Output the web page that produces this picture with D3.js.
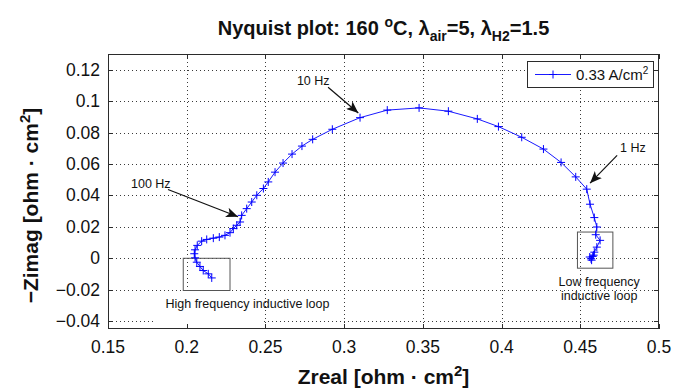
<!DOCTYPE html>
<html>
<head>
<meta charset="utf-8">
<script src="https://cdn.jsdelivr.net/npm/d3@7"></script>
<style>
  html, body { margin: 0; padding: 0; background: #fff; }
  svg { display: block; font-family: "Liberation Sans", Arial, Helvetica, sans-serif; }
</style>
</head>
<body>
<div id="chart"></div>
<script>
// impedance spectrum, high frequency end first
const zreal = [0.2159, 0.2137, 0.2105, 0.2084, 0.2064, 0.2053, 0.2048, 0.2053, 0.2067, 0.2095,
  0.2127, 0.2169, 0.2207, 0.2243, 0.2275, 0.2296, 0.2318, 0.2339, 0.2349, 0.2381,
  0.2413, 0.2445, 0.2487, 0.2518, 0.2561, 0.2612, 0.2669, 0.2732, 0.2800, 0.2925,
  0.3101, 0.3274, 0.3476, 0.3662, 0.3846, 0.3980, 0.4128, 0.4266, 0.4378, 0.4471,
  0.4541, 0.4562, 0.4589, 0.4605, 0.4598, 0.4626, 0.4605, 0.4589, 0.4579, 0.4568,
  0.4585, 0.4560, 0.4572];
const zimag = [-0.0125, -0.0099, -0.0078, -0.0052, -0.0025, 0.0003, 0.0029, 0.0054, 0.0082, 0.0109,
  0.0120, 0.0128, 0.0135, 0.0146, 0.0163, 0.0189, 0.0210, 0.0231, 0.0273, 0.0316,
  0.0358, 0.0401, 0.0444, 0.0486, 0.0548, 0.0606, 0.0663, 0.0714, 0.0757, 0.0821,
  0.0895, 0.0943, 0.0957, 0.0936, 0.0887, 0.0838, 0.0770, 0.0695, 0.0610, 0.0518,
  0.0440, 0.0344, 0.0259, 0.0199, 0.0150, 0.0114, 0.0071, 0.0039, 0.0012, -0.0003,
  0.0020, 0.0008, -0.0012];

const xTicks = [0.15, 0.2, 0.25, 0.3, 0.35, 0.4, 0.45, 0.5];
const yTicks = [-0.04, -0.02, 0, 0.02, 0.04, 0.06, 0.08, 0.1, 0.12];
const xTickLabels = ["0.15", "0.2", "0.25", "0.3", "0.35", "0.4", "0.45", "0.5"];
const yTickLabels = ["\u22120.04", "\u22120.02", "0", "0.02", "0.04", "0.06", "0.08", "0.1", "0.12"];
const seriesName = "0.33 A/cm";

// annotations in data units
const arrows = [
  { label: "10 Hz",  tx: 0.2700, ty: 0.1103, x0: 0.2898, y0: 0.1088, x1: 0.3090, y1: 0.0925 },
  { label: "100 Hz", tx: 0.1646, ty: 0.0446, x0: 0.1881, y0: 0.0438, x1: 0.2326, y1: 0.0264 },
  { label: "1 Hz",   tx: 0.4753, ty: 0.0676, x0: 0.4734, y0: 0.0655, x1: 0.4562, y1: 0.0478 }
];
const boxes = [
  { x0: 0.1978, x1: 0.2275, y0: -0.0205, y1: 0.0 },
  { x0: 0.4482, x1: 0.4707, y0: -0.0063, y1: 0.0167 }
];

const width = 686, height = 389;
const margin = { top: 54, right: 27, bottom: 60, left: 108 };

const svg = d3.select("#chart").append("svg")
  .attr("width", width).attr("height", height);

const x = d3.scaleLinear().domain([0.15, 0.5]).range([margin.left, width - margin.right]);
const y = d3.scaleLinear().domain([-0.045, 0.13]).range([height - margin.bottom, margin.top]);
const [xl, xr] = x.range();
const [yb, yt] = y.range();

const axisColor = "#2b2b2b";

// dotted grid
const grid = svg.append("g").attr("stroke", "#3a3a3a").attr("stroke-width", 1)
  .attr("stroke-dasharray", "1,3");
grid.selectAll(".gx").data(xTicks.slice(1, -1)).join("line")
  .attr("x1", d => Math.round(x(d)) + 0.5).attr("x2", d => Math.round(x(d)) + 0.5)
  .attr("y1", yt).attr("y2", yb);
grid.selectAll(".gy").data(yTicks).join("line")
  .attr("y1", d => Math.round(y(d)) + 0.5).attr("y2", d => Math.round(y(d)) + 0.5)
  .attr("x1", xl).attr("x2", xr);

// white patch behind the high frequency caption
svg.append("rect")
  .attr("x", x(0.1805)).attr("y", y(-0.0215))
  .attr("width", x(0.2479) - x(0.1805)).attr("height", y(-0.045) - y(-0.0215) - 1)
  .attr("fill", "#fff");

// axis box with inward ticks on all sides
const ax = svg.append("g").attr("stroke", axisColor).attr("stroke-width", 1).attr("fill", "none");
ax.append("rect").attr("x", xl + 0.5).attr("y", yt + 0.5)
  .attr("width", xr - xl - 1).attr("height", yb - yt - 1);
const tl = 5;
xTicks.forEach(d => {
  const px = Math.round(x(d)) + 0.5;
  ax.append("line").attr("x1", px).attr("x2", px).attr("y1", yb).attr("y2", yb - tl);
  ax.append("line").attr("x1", px).attr("x2", px).attr("y1", yt).attr("y2", yt + tl);
});
yTicks.forEach(d => {
  const py = Math.round(y(d)) + 0.5;
  ax.append("line").attr("y1", py).attr("y2", py).attr("x1", xl).attr("x2", xl + tl);
  ax.append("line").attr("y1", py).attr("y2", py).attr("x1", xr).attr("x2", xr - tl);
});

// tick labels
svg.append("g").selectAll("text").data(xTicks).join("text")
  .attr("x", d => x(d)).attr("y", yb + 24)
  .attr("text-anchor", "middle").attr("font-size", 17.5).attr("fill", "#111")
  .text((d, i) => xTickLabels[i]);
svg.append("g").selectAll("text").data(yTicks).join("text")
  .attr("x", xl - 8).attr("y", d => y(d) + 6)
  .attr("text-anchor", "end").attr("font-size", 17.5).attr("fill", "#111")
  .text((d, i) => yTickLabels[i]);

// boxes around the inductive loops
svg.append("g").selectAll("rect").data(boxes).join("rect")
  .attr("x", d => x(d.x0)).attr("y", d => y(d.y1))
  .attr("width", d => x(d.x1) - x(d.x0)).attr("height", d => y(d.y0) - y(d.y1))
  .attr("fill", "none").attr("stroke", "#555").attr("stroke-width", 1);

// series
const pts = zreal.map((v, i) => [v, zimag[i]]);
svg.append("path")
  .attr("d", d3.line().x(d => x(d[0])).y(d => y(d[1]))(pts))
  .attr("fill", "none").attr("stroke", "#1a1aff").attr("stroke-width", 1);
const ms = 4;
svg.append("g").attr("stroke", "#0000ff").attr("stroke-width", 1)
  .selectAll("path").data(pts).join("path")
  .attr("d", d => {
    const cx = x(d[0]), cy = y(d[1]);
    return `M${cx - ms},${cy}H${cx + ms}M${cx},${cy - ms}V${cy + ms}`;
  });

// arrows
svg.append("defs").append("marker")
  .attr("id", "head").attr("viewBox", "0 0 12 10")
  .attr("refX", 12).attr("refY", 5)
  .attr("markerWidth", 12).attr("markerHeight", 10)
  .attr("markerUnits", "userSpaceOnUse").attr("orient", "auto")
  .append("path").attr("d", "M0,0 L12,5 L0,10 L3,5 Z").attr("fill", "#111");

const ann = svg.append("g");
ann.selectAll("line").data(arrows).join("line")
  .attr("x1", d => x(d.x0)).attr("y1", d => y(d.y0))
  .attr("x2", d => x(d.x1)).attr("y2", d => y(d.y1))
  .attr("stroke", "#111").attr("stroke-width", 1.2)
  .attr("marker-end", "url(#head)");
ann.selectAll("text").data(arrows).join("text")
  .attr("x", d => x(d.tx)).attr("y", d => y(d.ty))
  .attr("font-size", 12.5).attr("fill", "#111")
  .text(d => d.label);

ann.append("text").attr("x", x(0.2386)).attr("y", y(-0.0319))
  .attr("text-anchor", "middle").attr("font-size", 12.5).attr("fill", "#111")
  .text("High frequency inductive loop");
ann.append("text").attr("x", x(0.4620)).attr("y", y(-0.0174))
  .attr("text-anchor", "middle").attr("font-size", 12.5).attr("fill", "#111")
  .text("Low frequency");
ann.append("text").attr("x", x(0.4620)).attr("y", y(-0.0263))
  .attr("text-anchor", "middle").attr("font-size", 12.5).attr("fill", "#111")
  .text("inductive loop");

// legend
const lg = svg.append("g");
lg.append("rect").attr("x", 527.5).attr("y", 61.5).attr("width", 126).attr("height", 26)
  .attr("fill", "#fff").attr("stroke", axisColor);
lg.append("line").attr("x1", 535).attr("x2", 571).attr("y1", 74.5).attr("y2", 74.5)
  .attr("stroke", "#1a1aff");
lg.append("path").attr("d", `M${553 - ms},74.5H${553 + ms}M553,${74.5 - ms}V${74.5 + ms}`)
  .attr("stroke", "#0000ff");
const lt = lg.append("text").attr("x", 576).attr("y", 80).attr("font-size", 15).attr("fill", "#111");
lt.append("tspan").text(seriesName);
lt.append("tspan").attr("dy", -6).attr("font-size", 10).text("2");

// title
const cx = (xl + xr) / 2;
const title = svg.append("text").attr("x", cx).attr("y", 35)
  .attr("text-anchor", "middle").attr("font-size", 20).attr("font-weight", "bold").attr("fill", "#111");
title.append("tspan").text("Nyquist plot: 160 ");
title.append("tspan").attr("dy", -8).attr("font-size", 14).text("o");
title.append("tspan").attr("dy", 8).text("C, \u03bb");
title.append("tspan").attr("dy", 6).attr("font-size", 14).text("air");
title.append("tspan").attr("dy", -6).text("=5, \u03bb");
title.append("tspan").attr("dy", 6).attr("font-size", 14).text("H2");
title.append("tspan").attr("dy", -6).text("=1.5");

// axis titles
const xt = svg.append("text").attr("x", cx).attr("y", 384)
  .attr("text-anchor", "middle").attr("font-size", 21).attr("font-weight", "bold").attr("fill", "#111");
xt.append("tspan").text("Zreal [ohm \u00b7 cm");
xt.append("tspan").attr("dy", -8).attr("font-size", 15).text("2");
xt.append("tspan").attr("dy", 8).text("]");

const yl = svg.append("text")
  .attr("transform", `translate(38,${(yt + yb) / 2 + 14}) rotate(-90)`)
  .attr("text-anchor", "middle").attr("font-size", 21).attr("font-weight", "bold").attr("fill", "#111");
yl.append("tspan").text("\u2212Zimag [ohm \u00b7 cm");
yl.append("tspan").attr("dy", -8).attr("font-size", 15).text("2");
yl.append("tspan").attr("dy", 8).text("]");
</script>
</body>
</html>
